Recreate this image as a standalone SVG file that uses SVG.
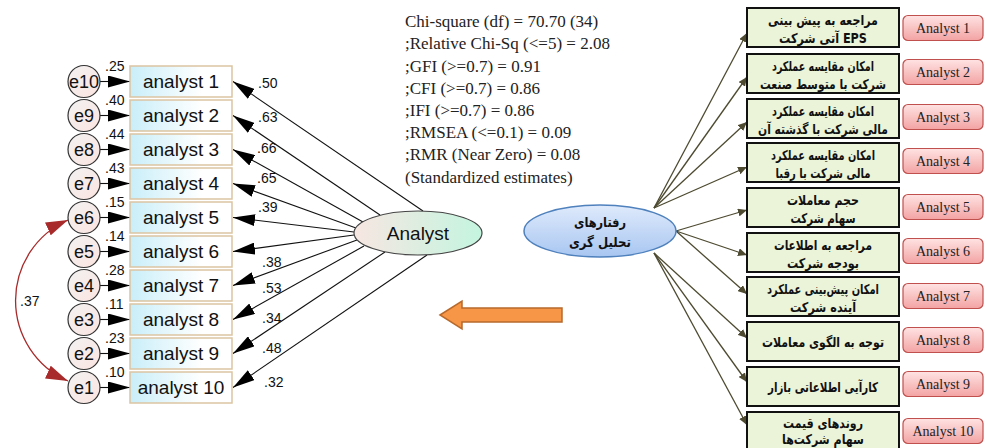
<svg xmlns="http://www.w3.org/2000/svg" width="986" height="448" viewBox="0 0 986 448">
<defs>
<style>
.sans{font-family:"Liberation Sans",Arial,sans-serif;fill:#111}
.serif{font-family:"Liberation Serif","Times New Roman",serif;fill:#222}
.fa{font-family:"DejaVu Sans","Noto Sans",sans-serif;font-weight:bold;font-size:13.5px;fill:#111}
.ecirc{fill:url(#gE);stroke:#333;stroke-width:1.2}
.abox{fill:url(#gA);stroke:#dcc4a2;stroke-width:1.5}
.blk{stroke:#111;stroke-width:1.1;fill:none;marker-end:url(#mB)}
.olv{stroke:#4d4a30;stroke-width:1.3;fill:none;marker-end:url(#mO)}
.gbox{fill:#ebf4d9;stroke:#111;stroke-width:2}
.rbox{fill:url(#gR);stroke:#c0504d;stroke-width:1.2}
</style>
<linearGradient id="gE" x1="0" y1="0" x2="1" y2="1"><stop offset="0" stop-color="#f2f2f2"/><stop offset="1" stop-color="#fbe4e0"/></linearGradient>
<linearGradient id="gA" x1="0" y1="0" x2="1" y2="0"><stop offset="0" stop-color="#c9eef9"/><stop offset="0.7" stop-color="#ffffff"/></linearGradient>
<linearGradient id="gAn" x1="0" y1="0" x2="1" y2="0"><stop offset="0" stop-color="#f7e6e2"/><stop offset="1" stop-color="#c4f5df"/></linearGradient>
<linearGradient id="gB" x1="0" y1="0" x2="0" y2="1"><stop offset="0" stop-color="#dfeafc"/><stop offset="1" stop-color="#a8c6f1"/></linearGradient>
<linearGradient id="gR" x1="0" y1="0" x2="0" y2="1"><stop offset="0" stop-color="#ffe3e3"/><stop offset="1" stop-color="#f3a3a3"/></linearGradient>
<marker id="mB" viewBox="0 0 22 12" refX="22" refY="6" markerWidth="22" markerHeight="12" markerUnits="userSpaceOnUse" orient="auto"><path d="M0,0 L22,6 L0,12 Z" fill="#000"/></marker>
<marker id="mO" viewBox="0 0 9 8" refX="9" refY="4" markerWidth="9" markerHeight="8" markerUnits="userSpaceOnUse" orient="auto"><path d="M0,0 L9,4 L0,8 Z" fill="#4d4a30"/></marker>
<marker id="mR" viewBox="0 0 22 14" refX="22" refY="7" markerWidth="22" markerHeight="14" markerUnits="userSpaceOnUse" orient="auto-start-reverse"><path d="M0,0 L22,7 L0,14 Z" fill="#a82a2a"/></marker>
</defs>
<rect width="986" height="448" fill="#fff"/>

<g id="connectors">
<line class="blk" x1="100" y1="81.5" x2="130" y2="81.5"/>
<line class="blk" x1="100" y1="115.5" x2="130" y2="115.5"/>
<line class="blk" x1="100" y1="149.5" x2="130" y2="149.5"/>
<line class="blk" x1="100" y1="183.5" x2="130" y2="183.5"/>
<line class="blk" x1="100" y1="217.5" x2="130" y2="217.5"/>
<line class="blk" x1="100" y1="251.5" x2="130" y2="251.5"/>
<line class="blk" x1="100" y1="285.5" x2="130" y2="285.5"/>
<line class="blk" x1="100" y1="319.5" x2="130" y2="319.5"/>
<line class="blk" x1="100" y1="353.5" x2="130" y2="353.5"/>
<line class="blk" x1="100" y1="387.5" x2="130" y2="387.5"/>
<line class="blk" x1="423" y1="211" x2="233" y2="81.5"/>
<line class="blk" x1="380" y1="215" x2="233" y2="115.5"/>
<line class="blk" x1="363" y1="222" x2="233" y2="149.5"/>
<line class="blk" x1="356" y1="228" x2="233" y2="183.5"/>
<line class="blk" x1="354" y1="232" x2="233" y2="217.5"/>
<line class="blk" x1="354" y1="235" x2="233" y2="251.5"/>
<line class="blk" x1="357" y1="240" x2="233" y2="285.5"/>
<line class="blk" x1="364" y1="246" x2="233" y2="319.5"/>
<line class="blk" x1="385" y1="252" x2="233" y2="353.5"/>
<line class="blk" x1="427" y1="255" x2="233" y2="387.5"/>
<path d="M68,220 A88,88 0 0 0 68,381" stroke="#a82a2a" stroke-width="1.3" fill="none" marker-start="url(#mR)" marker-end="url(#mR)"/>
<line class="olv" x1="654" y1="208" x2="747" y2="33"/>
<line class="olv" x1="654" y1="208" x2="747" y2="77"/>
<line class="olv" x1="654" y1="208" x2="747" y2="122"/>
<line class="olv" x1="654" y1="208" x2="747" y2="167"/>
<line class="olv" x1="676" y1="231" x2="747" y2="210"/>
<line class="olv" x1="676" y1="231" x2="747" y2="255"/>
<line class="olv" x1="676" y1="231" x2="747" y2="294"/>
<line class="olv" x1="654" y1="253" x2="747" y2="338"/>
<line class="olv" x1="654" y1="253" x2="747" y2="382"/>
<line class="olv" x1="654" y1="253" x2="747" y2="425"/>
</g>

<g id="loadings" class="sans" font-size="14">
<text x="105" y="71">.25</text><text x="105" y="105">.40</text><text x="105" y="139">.44</text><text x="105" y="173">.43</text><text x="105" y="207">.15</text>
<text x="105" y="241">.14</text><text x="105" y="275">.28</text><text x="105" y="309">.11</text><text x="105" y="343">.23</text><text x="105" y="377">.10</text>
<text x="258" y="88">.50</text><text x="258" y="122">.63</text><text x="257" y="153">.66</text><text x="257" y="183">.65</text><text x="258" y="212">.39</text>
<text x="262" y="267">.38</text><text x="262" y="293">.53</text><text x="262" y="323">.34</text><text x="262" y="353">.48</text><text x="264" y="387">.32</text>
<text x="20" y="306">.37</text>
</g>

<g id="e10"><circle class="ecirc" cx="84" cy="81.5" r="16"/><text class="sans" x="84" y="88" font-size="18" text-anchor="middle">e10</text></g>
<g id="e9"><circle class="ecirc" cx="84" cy="115.5" r="16"/><text class="sans" x="84" y="122" font-size="18" text-anchor="middle">e9</text></g>
<g id="e8"><circle class="ecirc" cx="84" cy="149.5" r="16"/><text class="sans" x="84" y="156" font-size="18" text-anchor="middle">e8</text></g>
<g id="e7"><circle class="ecirc" cx="84" cy="183.5" r="16"/><text class="sans" x="84" y="190" font-size="18" text-anchor="middle">e7</text></g>
<g id="e6"><circle class="ecirc" cx="84" cy="217.5" r="16"/><text class="sans" x="84" y="224" font-size="18" text-anchor="middle">e6</text></g>
<g id="e5"><circle class="ecirc" cx="84" cy="251.5" r="16"/><text class="sans" x="84" y="258" font-size="18" text-anchor="middle">e5</text></g>
<g id="e4"><circle class="ecirc" cx="84" cy="285.5" r="16"/><text class="sans" x="84" y="292" font-size="18" text-anchor="middle">e4</text></g>
<g id="e3"><circle class="ecirc" cx="84" cy="319.5" r="16"/><text class="sans" x="84" y="326" font-size="18" text-anchor="middle">e3</text></g>
<g id="e2"><circle class="ecirc" cx="84" cy="353.5" r="16"/><text class="sans" x="84" y="360" font-size="18" text-anchor="middle">e2</text></g>
<g id="e1"><circle class="ecirc" cx="84" cy="387.5" r="16"/><text class="sans" x="84" y="394" font-size="18" text-anchor="middle">e1</text></g>

<g id="a1"><rect class="abox" x="130" y="66" width="102" height="31"/><text class="sans" x="181" y="88" font-size="19" text-anchor="middle">analyst 1</text></g>
<g id="a2"><rect class="abox" x="130" y="100" width="102" height="31"/><text class="sans" x="181" y="122" font-size="19" text-anchor="middle">analyst 2</text></g>
<g id="a3"><rect class="abox" x="130" y="134" width="102" height="31"/><text class="sans" x="181" y="156" font-size="19" text-anchor="middle">analyst 3</text></g>
<g id="a4"><rect class="abox" x="130" y="168" width="102" height="31"/><text class="sans" x="181" y="190" font-size="19" text-anchor="middle">analyst 4</text></g>
<g id="a5"><rect class="abox" x="130" y="202" width="102" height="31"/><text class="sans" x="181" y="224" font-size="19" text-anchor="middle">analyst 5</text></g>
<g id="a6"><rect class="abox" x="130" y="236" width="102" height="31"/><text class="sans" x="181" y="258" font-size="19" text-anchor="middle">analyst 6</text></g>
<g id="a7"><rect class="abox" x="130" y="270" width="102" height="31"/><text class="sans" x="181" y="292" font-size="19" text-anchor="middle">analyst 7</text></g>
<g id="a8"><rect class="abox" x="130" y="304" width="102" height="31"/><text class="sans" x="181" y="326" font-size="19" text-anchor="middle">analyst 8</text></g>
<g id="a9"><rect class="abox" x="130" y="338" width="102" height="31"/><text class="sans" x="181" y="360" font-size="19" text-anchor="middle">analyst 9</text></g>
<g id="a10"><rect class="abox" x="130" y="372" width="102" height="31"/><text class="sans" x="181" y="394" font-size="19" text-anchor="middle">analyst 10</text></g>

<g id="analyst"><ellipse cx="418" cy="233" rx="64" ry="22" fill="url(#gAn)" stroke="#444" stroke-width="1.2"/><text class="sans" x="418" y="240" font-size="19" text-anchor="middle">Analyst</text></g>

<g id="stats" class="serif" font-size="17">
<text x="405" y="27">Chi-square (df) = 70.70 (34)</text>
<text x="405" y="49">;Relative Chi-Sq (&lt;=5) = 2.08</text>
<text x="405" y="72">;GFI (&gt;=0.7) = 0.91</text>
<text x="405" y="94">;CFI (&gt;=0.7) = 0.86</text>
<text x="405" y="116">;IFI (&gt;=0.7) = 0.86</text>
<text x="405" y="138">;RMSEA (&lt;=0.1) = 0.09</text>
<text x="405" y="160">;RMR (Near Zero) = 0.08</text>
<text x="405" y="183">(Standardized estimates)</text>
</g>

<g id="bigarrow"><path d="M440,315 L462,301 L462,308 L562,308 L562,322 L462,322 L462,329 Z" fill="#f79646" stroke="#b8692c" stroke-width="1.5"/></g>

<g id="behav"><ellipse cx="600" cy="231" rx="76" ry="26" fill="url(#gB)" stroke="#4f81bd" stroke-width="1.5"/>
<text class="fa" x="600" y="227" text-anchor="middle" textLength="52" lengthAdjust="spacingAndGlyphs">رفتارهای</text>
<text class="fa" x="600" y="247" text-anchor="middle" textLength="62" lengthAdjust="spacingAndGlyphs">تحلیل گری</text></g>

<g id="g1"><rect class="gbox" x="747" y="8" width="152" height="39"/><text class="fa" x="823" y="25" text-anchor="middle" textLength="110" lengthAdjust="spacingAndGlyphs">مراجعه به پیش بینی</text><text class="fa" x="823" y="43" text-anchor="middle" textLength="88" lengthAdjust="spacingAndGlyphs">آتی شرکت EPS</text></g>
<g id="g2"><rect class="gbox" x="747" y="54" width="152" height="39"/><text class="fa" x="823" y="71" text-anchor="middle" textLength="102" lengthAdjust="spacingAndGlyphs">امکان مقایسه عملکرد</text><text class="fa" x="823" y="89" text-anchor="middle" textLength="126" lengthAdjust="spacingAndGlyphs">شرکت با متوسط صنعت</text></g>
<g id="g3"><rect class="gbox" x="747" y="99" width="152" height="39"/><text class="fa" x="823" y="116" text-anchor="middle" textLength="102" lengthAdjust="spacingAndGlyphs">امکان مقایسه عملکرد</text><text class="fa" x="823" y="134" text-anchor="middle" textLength="130" lengthAdjust="spacingAndGlyphs">مالی شرکت با گذشته آن</text></g>
<g id="g4"><rect class="gbox" x="747" y="143" width="152" height="39"/><text class="fa" x="823" y="160" text-anchor="middle" textLength="104" lengthAdjust="spacingAndGlyphs">امکان مقایسه عملکرد</text><text class="fa" x="823" y="178" text-anchor="middle" textLength="95" lengthAdjust="spacingAndGlyphs">مالی شرکت با رقبا</text></g>
<g id="g5"><rect class="gbox" x="747" y="188" width="152" height="39"/><text class="fa" x="823" y="205" text-anchor="middle" textLength="72" lengthAdjust="spacingAndGlyphs">حجم معاملات</text><text class="fa" x="823" y="223" text-anchor="middle" textLength="65" lengthAdjust="spacingAndGlyphs">سهام شرکت</text></g>
<g id="g6"><rect class="gbox" x="747" y="233" width="152" height="39"/><text class="fa" x="823" y="250" text-anchor="middle" textLength="98" lengthAdjust="spacingAndGlyphs">مراجعه به اطلاعات</text><text class="fa" x="823" y="268" text-anchor="middle" textLength="72" lengthAdjust="spacingAndGlyphs">بودجه شرکت</text></g>
<g id="g7"><rect class="gbox" x="747" y="277" width="152" height="39"/><text class="fa" x="823" y="294" text-anchor="middle" textLength="112" lengthAdjust="spacingAndGlyphs">امکان پیش‌بینی عملکرد</text><text class="fa" x="823" y="312" text-anchor="middle" textLength="66" lengthAdjust="spacingAndGlyphs">آینده شرکت</text></g>
<g id="g8"><rect class="gbox" x="747" y="322" width="152" height="39"/><text class="fa" x="823" y="347" text-anchor="middle" textLength="122" lengthAdjust="spacingAndGlyphs">توجه به الگوی معاملات</text></g>
<g id="g9"><rect class="gbox" x="747" y="367" width="152" height="39"/><text class="fa" x="823" y="392" text-anchor="middle" textLength="110" lengthAdjust="spacingAndGlyphs">کارآیی اطلاعاتی بازار</text></g>
<g id="g10"><rect class="gbox" x="747" y="412" width="152" height="39"/><text class="fa" x="823" y="428" text-anchor="middle" textLength="80" lengthAdjust="spacingAndGlyphs">روندهای قیمت</text><text class="fa" x="823" y="444" text-anchor="middle" textLength="82" lengthAdjust="spacingAndGlyphs">سهام شرکت‌ها</text></g>

<g id="r1"><rect class="rbox" x="903" y="15.5" width="80" height="25" rx="5"/><text class="serif" x="943" y="33" font-size="14" text-anchor="middle">Analyst 1</text></g>
<g id="r2"><rect class="rbox" x="903" y="59.5" width="80" height="25" rx="5"/><text class="serif" x="943" y="77" font-size="14" text-anchor="middle">Analyst 2</text></g>
<g id="r3"><rect class="rbox" x="903" y="104.5" width="80" height="25" rx="5"/><text class="serif" x="943" y="122" font-size="14" text-anchor="middle">Analyst 3</text></g>
<g id="r4"><rect class="rbox" x="903" y="148.5" width="80" height="25" rx="5"/><text class="serif" x="943" y="166" font-size="14" text-anchor="middle">Analyst 4</text></g>
<g id="r5"><rect class="rbox" x="903" y="194.5" width="80" height="25" rx="5"/><text class="serif" x="943" y="212" font-size="14" text-anchor="middle">Analyst 5</text></g>
<g id="r6"><rect class="rbox" x="903" y="238.5" width="80" height="25" rx="5"/><text class="serif" x="943" y="256" font-size="14" text-anchor="middle">Analyst 6</text></g>
<g id="r7"><rect class="rbox" x="903" y="283.5" width="80" height="25" rx="5"/><text class="serif" x="943" y="301" font-size="14" text-anchor="middle">Analyst 7</text></g>
<g id="r8"><rect class="rbox" x="903" y="327.5" width="80" height="25" rx="5"/><text class="serif" x="943" y="345" font-size="14" text-anchor="middle">Analyst 8</text></g>
<g id="r9"><rect class="rbox" x="903" y="371.5" width="80" height="25" rx="5"/><text class="serif" x="943" y="389" font-size="14" text-anchor="middle">Analyst 9</text></g>
<g id="r10"><rect class="rbox" x="903" y="418.5" width="80" height="25" rx="5"/><text class="serif" x="943" y="436" font-size="14" text-anchor="middle">Analyst 10</text></g>
</svg>
